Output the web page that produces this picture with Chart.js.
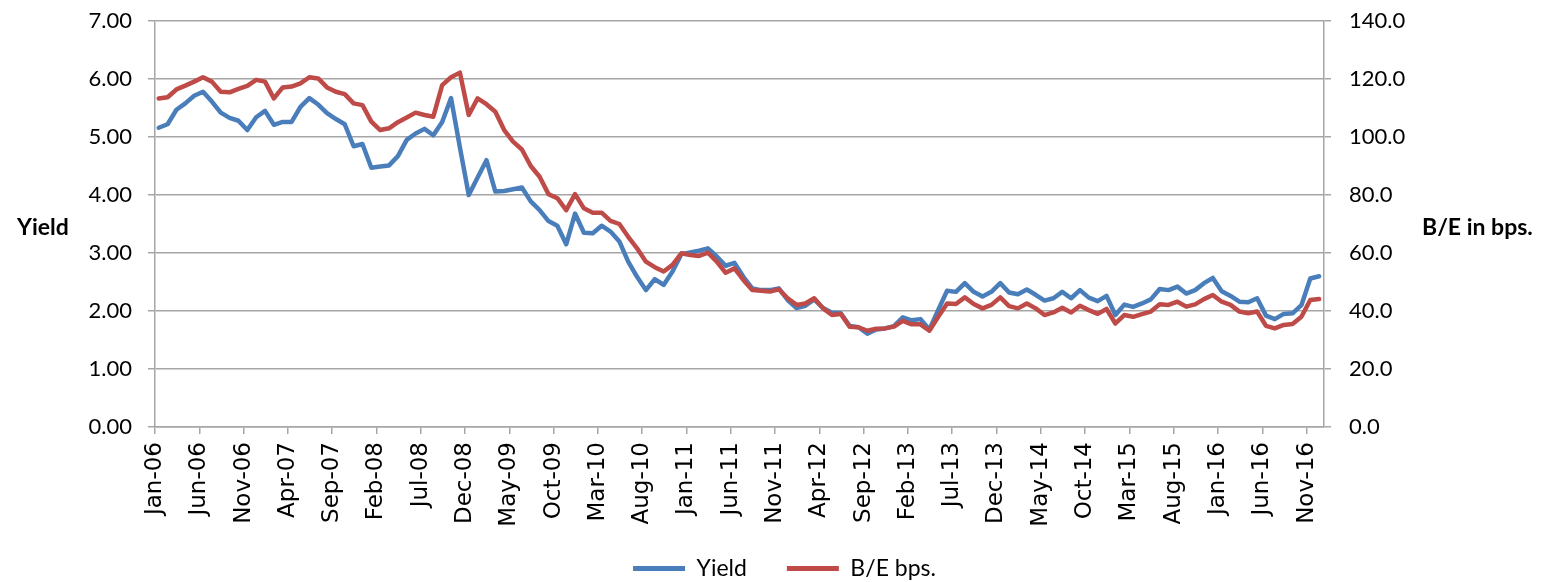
<!DOCTYPE html>
<html><head><meta charset="utf-8">
<script src="https://cdn.jsdelivr.net/npm/chart.js@4.4.1/dist/chart.umd.min.js"></script>
<style>
html,body{margin:0;padding:0;background:#fff;}
#wrap{position:relative;width:1545px;height:582px;overflow:hidden;}
canvas{position:absolute;left:0;top:0;}
.atitle{position:absolute;font-family:Lato,sans-serif;font-weight:bold;font-size:23px;color:#000;line-height:1;white-space:nowrap;transform:translateY(-50%);}
</style></head>
<body><div id="wrap"><canvas id="c" width="1545" height="582"></canvas>
<div class="atitle" style="left:17px;top:226px">Yield</div>
<div class="atitle" style="left:1422px;top:226px">B/E in bps.</div>
</div>
<script>
const tickLabels = ['Jan-06','Jun-06','Nov-06','Apr-07','Sep-07','Feb-08','Jul-08','Dec-08','May-09','Oct-09','Mar-10','Aug-10','Jan-11','Jun-11','Nov-11','Apr-12','Sep-12','Feb-13','Jul-13','Dec-13','May-14','Oct-14','Mar-15','Aug-15','Jan-16','Jun-16','Nov-16'];

const monthNames = ['Jan','Feb','Mar','Apr','May','Jun','Jul','Aug','Sep','Oct','Nov','Dec'];
const years = ['06','07','08','09','10','11','12','13','14','15','16'];
const categories = [];
years.forEach(y => monthNames.forEach(m => categories.push(m + '-' + y)));

const yieldValues = [
5.16,5.22,5.47,5.58,5.71,5.78,5.61,5.42,5.33,5.28,
5.12,5.34,5.45,5.21,5.26,5.26,5.52,5.67,5.56,5.41,
5.31,5.22,4.84,4.88,4.47,4.49,4.51,4.67,4.95,5.06,
5.14,5.03,5.26,5.67,4.82,4.00,4.30,4.60,4.06,4.07,
4.10,4.13,3.89,3.74,3.55,3.47,3.15,3.68,3.35,3.34,
3.47,3.37,3.20,2.85,2.59,2.36,2.55,2.45,2.68,2.98,
3.01,3.04,3.08,2.94,2.78,2.83,2.59,2.39,2.36,2.36,
2.39,2.19,2.05,2.09,2.20,2.05,1.97,1.96,1.74,1.72,
1.61,1.68,1.70,1.74,1.89,1.84,1.86,1.68,2.02,2.35,
2.33,2.48,2.33,2.25,2.33,2.48,2.32,2.29,2.37,2.28,
2.18,2.22,2.33,2.22,2.36,2.23,2.17,2.26,1.93,2.11,
2.07,2.13,2.20,2.38,2.36,2.42,2.30,2.36,2.48,2.57,
2.34,2.26,2.16,2.15,2.22,1.92,1.86,1.95,1.96,2.10,
2.56,2.60];

const beValues = [
113.3,113.7,116.4,117.7,119.1,120.6,119.1,115.6,115.4,116.6,
117.6,119.7,119.1,113.3,117.1,117.4,118.5,120.6,120.2,117.1,
115.6,114.8,111.6,111.0,105.3,102.4,103.0,105.1,106.7,108.4,
107.6,107.0,117.9,120.6,122.2,107.6,113.3,111.3,108.7,102.4,
98.4,95.7,90.0,86.3,80.3,78.9,74.8,80.3,75.4,73.9,
73.9,71.1,70.0,65.6,61.6,57.0,55.1,53.6,55.9,59.9,
59.3,59.0,60.1,57.0,53.2,54.7,50.7,47.2,47.0,46.7,
47.5,44.4,42.1,42.6,44.4,40.9,38.6,39.0,34.6,34.4,
33.2,33.9,34.0,34.6,36.6,35.4,35.4,33.2,38.0,42.6,
42.4,44.7,42.4,40.9,42.1,44.7,41.7,40.9,42.6,40.9,
38.6,39.5,41.1,39.5,41.8,40.3,39.0,40.7,35.7,38.6,
38.0,38.9,39.8,42.3,42.1,43.2,41.5,42.3,44.1,45.5,
43.2,42.1,39.8,39.2,39.8,34.9,34.0,35.2,35.5,38.0,
43.8,44.1];

const seriesNames = ['Yield','B/E bps.'];
const seriesColors = ['#4a7ebb','#be4b48'];

const xStart = -0.42, xEnd = 131.55;
const gridColor = '#a6a6a6';
const toPoints = arr => arr.map((v, i) => ({x: i, y: v, month: categories[i]}));

const legendShift = {
  id: 'legendShift',
  afterLayout(chart) {
    const lg = chart.legend;
    if (lg) { lg.left += 12; lg.right += 12; lg.top -= 10; lg.bottom -= 10; }
  }
};
const noVPad = s => { s.paddingTop = 0; s.paddingBottom = 0; };

new Chart(document.getElementById('c'), {
  type: 'line',
  plugins: [legendShift],
  data: {
    datasets: [
      {label: seriesNames[0], data: toPoints(yieldValues), yAxisID: 'y', borderColor: seriesColors[0], backgroundColor: seriesColors[0],
       borderWidth: 4.5, pointRadius: 0, tension: 0, borderJoinStyle: 'round', borderCapStyle: 'round', order: 1},
      {label: seriesNames[1], data: toPoints(beValues), yAxisID: 'y1', borderColor: seriesColors[1], backgroundColor: seriesColors[1],
       borderWidth: 4.5, pointRadius: 0, tension: 0, borderJoinStyle: 'round', borderCapStyle: 'round', order: 0}
    ]
  },
  options: {
    responsive: false, animation: false, devicePixelRatio: 1,
    layout: {padding: {top: 21, left: 0, right: 0, bottom: -18}},
    plugins: {
      tooltip: {enabled: false},
      legend: {
        position: 'bottom',
        labels: {
          boxWidth: 52, boxHeight: 5, padding: 40, color: '#000',
          font: {family: 'Lato', size: 23},
          generateLabels: chart => chart.data.datasets.map((d, i) => ({
            text: d.label, fillStyle: d.borderColor, strokeStyle: d.borderColor, lineWidth: 0,
            datasetIndex: i, hidden: false, fontColor: '#000'
          }))
        }
      }
    },
    scales: {
      x: {
        type: 'linear', min: xStart, max: xEnd,
        afterBuildTicks: s => { s.ticks = tickLabels.map((_, k) => ({value: xStart + 5 * k})); },
        afterFit: s => { s.height = 100; },
        ticks: {autoSkip: false, maxRotation: 90, minRotation: 90, padding: 8, color: '#000',
                font: {family: 'DejaVu Sans', size: 23}, callback: (v, i) => tickLabels[i]},
        grid: {drawOnChartArea: false, drawTicks: true, tickLength: 7, color: gridColor, lineWidth: 1.5},
        border: {display: true, color: gridColor, width: 1.5}
      },
      y: {
        position: 'left', min: 0, max: 7,
        afterFit: s => { s.width = 155; noVPad(s); },
        ticks: {stepSize: 1, padding: 16, color: '#000', font: {family: 'Lato', size: 22}, callback: v => v.toFixed(2)},
        grid: {color: gridColor, lineWidth: 1.5, tickLength: 7},
        border: {display: true, color: gridColor, width: 1.5}
      },
      y1: {
        position: 'right', min: 0, max: 140,
        afterFit: s => { s.width = 221; noVPad(s); },
        ticks: {stepSize: 20, padding: 18, color: '#000', font: {family: 'Lato', size: 22}, callback: v => v.toFixed(1)},
        grid: {drawOnChartArea: false, color: gridColor, lineWidth: 1.5, tickLength: 7},
        border: {display: true, color: gridColor, width: 1.5}
      }
    }
  }
});
</script>
</body></html>
